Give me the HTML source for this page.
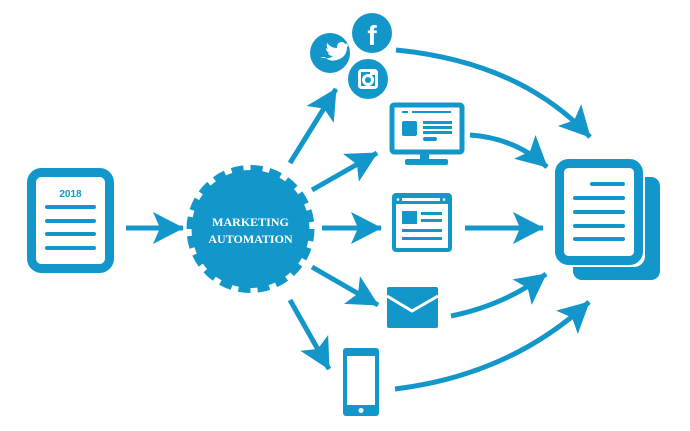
<!DOCTYPE html>
<html><head><meta charset="utf-8"><style>
html,body{margin:0;padding:0;background:#fff;}
svg{display:block;}
</style></head><body>
<svg width="690" height="431" viewBox="0 0 690 431" xmlns="http://www.w3.org/2000/svg">
<defs>
<marker id="ah" markerUnits="userSpaceOnUse" markerWidth="32" markerHeight="34" refX="30" refY="16" orient="auto">
<path d="M0,0 L31,16 L0,32 L7,16 z" fill="#1397cb"/>
</marker>
</defs>
<g fill="none" stroke="#1397cb" stroke-width="5">
<rect x="31.5" y="172.5" width="78" height="96" rx="10" stroke-width="9"/>
</g>
<g fill="#1397cb">
<text x="70.5" y="197" font-family="Liberation Sans, sans-serif" font-weight="bold" font-size="10" text-anchor="middle">2018</text>
<rect x="45" y="205" width="51" height="4" rx="2"/>
<rect x="45" y="219" width="51" height="4" rx="2"/>
<rect x="45" y="232" width="51" height="4" rx="2"/>
<rect x="45" y="246" width="51" height="4" rx="2"/>
</g>
<g stroke="#1397cb" stroke-width="5" fill="none" marker-end="url(#ah)">
<line x1="126" y1="228" x2="183" y2="228"/>
<line x1="290" y1="163" x2="336" y2="89"/>
<line x1="312" y1="190" x2="377" y2="153"/>
<line x1="322" y1="228" x2="381" y2="228"/>
<line x1="312" y1="267" x2="378" y2="305"/>
<line x1="290" y1="300" x2="329" y2="369"/>
<path d="M396,50 Q520,62 590,137"/>
<path d="M470,135 Q515,138 547,167"/>
<line x1="465" y1="228" x2="543" y2="228"/>
<path d="M451,316 Q505,305 546,274"/>
<path d="M395,389 Q510,375 589,302"/>
</g>
<circle cx="250.5" cy="229" r="59" fill="#1397cb"/>
<circle cx="250.5" cy="229" r="60.5" fill="none" stroke="#1397cb" stroke-width="7" stroke-dasharray="12 7"/>
<text x="250.5" y="226" font-family="Liberation Serif, serif" font-weight="bold" font-size="12" fill="#fff" text-anchor="middle">MARKETING</text>
<text x="250.5" y="243" font-family="Liberation Serif, serif" font-weight="bold" font-size="12" fill="#fff" text-anchor="middle">AUTOMATION</text>
<circle cx="330" cy="53" r="20" fill="#1397cb"/>
<path d="M320,57 q8,3 13,-1 q-4,0 -5,-3 l2,0 q-4,-1 -4,-5 l2,1 q-2,-3 -1,-6 q4,5 10,5 q0,-6 5,-6 q2,0 3,2 l3,-1 -1,2 2,0 -2,2 q0,10 -10,13 q-8,2 -12,-3 z" fill="#fff"/>
<circle cx="372" cy="33" r="20" fill="#1397cb"/>
<text x="372" y="45" font-family="Liberation Sans, sans-serif" font-weight="bold" font-size="28" fill="#fff" text-anchor="middle">f</text>
<circle cx="368" cy="79" r="20" fill="#1397cb"/>
<rect x="359.5" y="70.5" width="17" height="17" rx="2" fill="none" stroke="#fff" stroke-width="3"/>
<circle cx="368" cy="80" r="4.5" fill="none" stroke="#fff" stroke-width="3"/>
<rect x="370" y="71" width="6" height="4" fill="#fff"/>
<rect x="392" y="105" width="70" height="47" rx="2" fill="none" stroke="#1397cb" stroke-width="5"/>
<rect x="402" y="111" width="6" height="2" fill="#1397cb"/><rect x="412" y="111" width="39" height="2" fill="#1397cb"/>
<rect x="402" y="121" width="15" height="15" rx="2" fill="#1397cb"/>
<rect x="423" y="121" width="29" height="3" fill="#1397cb"/><rect x="423" y="126" width="29" height="3" fill="#1397cb"/><rect x="423" y="131" width="29" height="3" fill="#1397cb"/>
<rect x="423" y="137" width="14" height="4" rx="2" fill="#1397cb"/>
<rect x="420" y="154" width="9" height="6" fill="#1397cb"/>
<rect x="405" y="159" width="43" height="6" rx="2" fill="#1397cb"/>
<rect x="394" y="195" width="56" height="55" rx="2" fill="none" stroke="#1397cb" stroke-width="4"/>
<rect x="394" y="195" width="56" height="9" fill="#1397cb"/>
<rect x="402" y="198" width="38" height="3" fill="#fff"/>
<circle cx="398" cy="199.5" r="1.3" fill="#fff"/><circle cx="444" cy="199.5" r="1.3" fill="#fff"/>
<rect x="402" y="211" width="15" height="13" fill="#1397cb"/>
<rect x="421" y="212" width="21" height="3" fill="#1397cb"/><rect x="421" y="219" width="21" height="3" fill="#1397cb"/>
<rect x="402" y="229" width="40" height="3" fill="#1397cb"/><rect x="402" y="237" width="40" height="3" fill="#1397cb"/>
<rect x="387" y="287" width="51" height="41" rx="2" fill="#1397cb"/>
<path d="M387,296 L412,311 L438,296" fill="none" stroke="#fff" stroke-width="3"/>
<rect x="343" y="348" width="36" height="68" rx="3" fill="#1397cb"/>
<rect x="347" y="356" width="28" height="49" fill="#fff"/>
<circle cx="361" cy="410.5" r="2.5" fill="#fff"/>
<rect x="573" y="177" width="87" height="103" rx="9" fill="#1397cb"/>
<rect x="553" y="157" width="92" height="110" rx="11" fill="#fff"/>
<rect x="559.5" y="163.5" width="79" height="97" rx="9" fill="none" stroke="#1397cb" stroke-width="9"/>
<g fill="#1397cb">
<rect x="590" y="182" width="35" height="4" rx="2"/>
<rect x="573" y="196" width="52" height="4" rx="2"/>
<rect x="573" y="210" width="52" height="4" rx="2"/>
<rect x="573" y="224" width="52" height="4" rx="2"/>
<rect x="573" y="237" width="52" height="4" rx="2"/>
</g>
</svg>
</body></html>
